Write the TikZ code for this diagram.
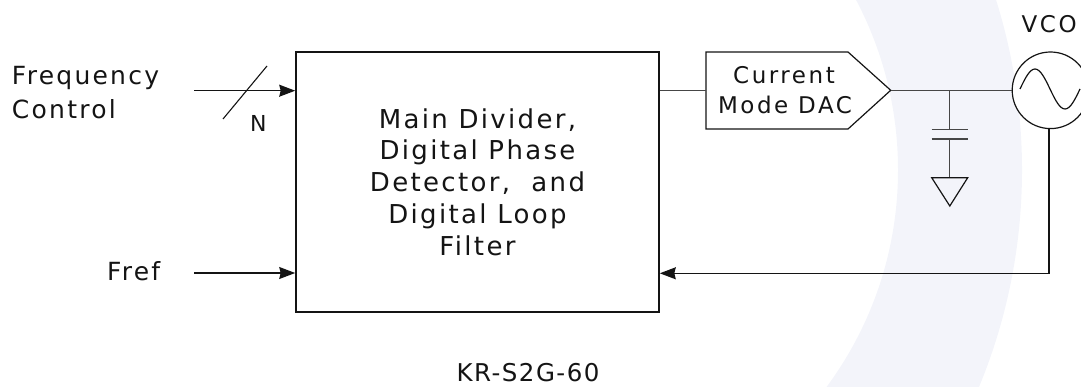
\documentclass[tikz,border=0pt]{standalone}
\usepackage{fontspec}
\setmainfont{DejaVu Sans}
\newfontfamily\fA[LetterSpace=9]{DejaVu Sans}
\newfontfamily\fB[LetterSpace=11]{DejaVu Sans}
\newfontfamily\fC[LetterSpace=6]{DejaVu Sans}
\usetikzlibrary{arrows.meta}
\definecolor{band}{RGB}{243,244,250}
\definecolor{ink}{RGB}{20,20,20}
\definecolor{wire}{RGB}{70,70,70}
\begin{document}
\begin{tikzpicture}[x=1pt,y=-1pt,
  lbl/.style={inner sep=0pt, outer sep=0pt, text=ink},
  wireline/.style={draw=wire, line width=1.2pt},
  arr/.style={draw=ink, line width=1.2pt, -{Stealth[length=16pt,width=12pt,inset=1.5pt]}},
  block/.style={draw=ink, line width=1.6pt, fill=white, inner sep=0pt}]
\useasboundingbox (0,0) rectangle (1081,387);
\clip (0,0) rectangle (1081,387);
% background band
\begin{scope}
  \clip (700,0) rectangle (1081,387);
  \fill[band, even odd rule] (455,170) circle[radius=567] (533,170) circle[radius=365];
\end{scope}
% main block
\node[block, minimum width=363pt, minimum height=260pt, align=center,
      font=\fA\fontsize{26}{31.7}\selectfont, text=ink] (main) at (477.5,182)
  {Main Divider,\\Digital Phase\\Detector,~ and\\Digital Loop\\Filter};
% inputs
\node[lbl, anchor=base west, font=\fA\fontsize{25}{30}\selectfont] (freq) at (12,85) {Frequency};
\node[lbl, anchor=base west, font=\fA\fontsize{25}{30}\selectfont] (ctrl) at (12,118.3) {Control};
\node[lbl, anchor=base west, font=\fA\fontsize{25}{30}\selectfont] (fref) at (107,280) {Fref};
\coordinate (fcin) at (194,90.7);
\coordinate (frin) at (194,273);
\draw[arr] (fcin) -- (fcin -| main.west);
\draw[arr] (frin) -- (frin -| main.west);
\coordinate (sla) at (223,119);
\coordinate (slb) at (267,66);
\draw[draw=ink, line width=1.1pt] (sla) -- (slb);
\node[lbl, anchor=base west, font=\fC\fontsize{22}{26}\selectfont] (nlab) at (250,131.7) {N};
% DAC
\coordinate (dacin) at (706,90.3);
\coordinate (dacout) at (890.7,90.3);
\draw[draw=ink, line width=1.2pt, fill=white] (706,52) -- (848,52) -- (dacout) -- (848,129) -- (706,129) -- cycle;
\node[lbl, anchor=base, font=\fB\fontsize{23}{28}\selectfont] (dac1) at (784,83.3) {Current};
\node[lbl, anchor=base, font=\fB\fontsize{23}{28}\selectfont] (dac2) at (785,113.3) {Mode DAC};
\draw[wireline] (main.east |- dacin) -- (dacin);
% VCO
\node[draw=ink, line width=1.2pt, circle, minimum size=76.6pt, inner sep=0pt, fill=white] (vco) at (1050.5,90.3) {};
\draw[draw=ink, line width=1.2pt] (1020,89) sin (1035,69) cos (1050,89) sin (1065,109) cos (1080,89);
\node[lbl, anchor=base west, font=\fB\fontsize{23}{28}\selectfont] (vcolab) at (1021.7,32.7) {VCO};
\draw[wireline] (dacout) -- (vco.west);
% capacitor and ground
\coordinate (capj) at (949.3,90.3);
\coordinate (capt) at (949.3,129.3);
\coordinate (capb) at (949.3,139);
\coordinate (gnd) at (949.3,177.7);
\draw[wireline] (capj) -- (capt);
\draw[wireline] ([xshift=-17.6pt]capt) -- ([xshift=18.4pt]capt);
\draw[wireline] ([xshift=-17.6pt]capb) -- ([xshift=18.4pt]capb);
\draw[wireline] (capb) -- (gnd);
\draw[draw=ink, line width=1.2pt, line join=miter] ([xshift=-17.6pt]gnd) -- ([xshift=18.4pt]gnd) -- (949.8,206) -- cycle;
% feedback
\coordinate (fb) at (1049,273.3);
\draw[arr] (vco.south -| fb) -- (fb) -- (fb -| main.east);
% label
\node[lbl, anchor=base, font=\fC\fontsize{24.5}{30}\selectfont] (kr) at (528,381.5) {KR-S2G-60};
\end{tikzpicture}
\end{document}
